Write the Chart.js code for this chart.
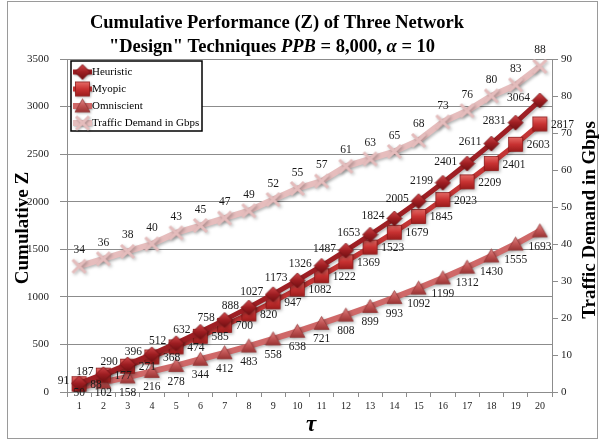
<!DOCTYPE html>
<html>
<head>
<meta charset="utf-8">
<script src="https://cdn.jsdelivr.net/npm/chart.js@4.4.1/dist/chart.umd.min.js"></script>
<style>
  html, body { margin: 0; padding: 0; background: #fff; }
  #wrap { width: 603px; height: 441px; position: relative; }
</style>
</head>
<body>
<div id="wrap"><canvas id="c" width="603" height="441"></canvas></div>
<script>
// Time periods (tau) on the x axis
const periods = ['1','2','3','4','5','6','7','8','9','10','11','12','13','14','15','16','17','18','19','20'];

// Cumulative performance Z per technique
const heuristic  = [91,187,290,396,512,632,758,888,1027,1173,1326,1487,1653,1824,2005,2199,2401,2611,2831,3064];
const myopic     = [88,177,271,368,474,585,700,820,947,1082,1222,1369,1523,1679,1845,2023,2209,2401,2603,2817];
const omniscient = [50,102,158,216,278,344,412,483,558,638,721,808,899,993,1092,1199,1312,1430,1555,1693];

// Traffic demand (Gbps), right axis
const traffic = [34,36,38,40,43,45,47,49,52,55,57,61,63,65,68,73,76,80,83,88];

const seriesNames = ['Heuristic','Myopic','Omniscient','Traffic Demand in Gbps'];

// Axis ranges
const zAxis = { min: 0, max: 3500, step: 500 };
const gbpsAxis = { min: 0, max: 90, step: 10 };

const SERIF = '"Liberation Serif", "Times New Roman", serif';
const GRID = '#8c8c8c';

// ---- shaded marker images ----
function markerCanvas(w, h, draw) {
  const c = document.createElement('canvas');
  c.width = w; c.height = h;
  const g = c.getContext('2d');
  g.translate(w / 2, h / 2);
  draw(g);
  return c;
}
function vGrad(g, top, bottom, stops) {
  const gr = g.createLinearGradient(0, top, 0, bottom);
  stops.forEach((s, i) => gr.addColorStop(i / (stops.length - 1), s));
  return gr;
}
const diamondImg = markerCanvas(17, 17, g => {
  const r = 7.5;
  g.beginPath(); g.moveTo(0, -r); g.lineTo(r, 0); g.lineTo(0, r); g.lineTo(-r, 0); g.closePath();
  g.fillStyle = vGrad(g, -r, r, ['#d0474a', '#9e1e22', '#6e0f12']);
  g.fill();
  g.strokeStyle = '#7a1518'; g.lineWidth = 0.8; g.stroke();
});
const squareImg = markerCanvas(17, 17, g => {
  const s = 7;
  g.fillStyle = vGrad(g, -s, s, ['#e66a66', '#c83232', '#9c1c1c']);
  g.fillRect(-s, -s, 2 * s, 2 * s);
  g.strokeStyle = '#8e1a1a'; g.lineWidth = 0.8; g.strokeRect(-s, -s, 2 * s, 2 * s);
});
const triangleImg = markerCanvas(17, 17, g => {
  g.beginPath(); g.moveTo(0, -7); g.lineTo(7.5, 6); g.lineTo(-7.5, 6); g.closePath();
  g.fillStyle = vGrad(g, -7, 6, ['#e08a8a', '#c25656', '#9a3434']);
  g.fill();
  g.strokeStyle = '#963838'; g.lineWidth = 0.8; g.stroke();
});
const crossImg = markerCanvas(17, 17, g => {
  g.strokeStyle = '#e4bcbc'; g.lineWidth = 3; g.lineCap = 'butt';
  g.beginPath(); g.moveTo(-6.5, -6.5); g.lineTo(6.5, 6.5); g.moveTo(6.5, -6.5); g.lineTo(-6.5, 6.5); g.stroke();
});

// ---- per-series value label placement ----
const labelPlacement = [
  { align: 'right',  dx: -10, dy: -2 },   // Heuristic: left of point
  { align: 'left',   dx: 11,  dy: 1 },    // Myopic: right of point
  { align: 'center', dx: 0,   dy: 16, clampBottom: true }, // Omniscient: below
  { align: 'center', dx: 0,   dy: -16 }   // Traffic: above
];

const valueLabels = {
  id: 'valueLabels',
  afterDatasetsDraw(chart) {
    const ctx = chart.ctx;
    ctx.save();
    ctx.font = '11.5px ' + SERIF;
    ctx.fillStyle = '#1a1a1a';
    ctx.textBaseline = 'middle';
    chart.data.datasets.forEach((ds, i) => {
      const meta = chart.getDatasetMeta(i);
      const p = labelPlacement[i];
      ctx.textAlign = p.align;
      meta.data.forEach((pt, j) => {
        let y = pt.y + p.dy;
        if (p.clampBottom) y = Math.min(y, chart.chartArea.bottom + 1);
        ctx.fillText(String(ds.data[j]), pt.x + p.dx, y);
      });
    });
    ctx.restore();
  }
};

// soft drop shadow under each series
const seriesShadow = {
  id: 'seriesShadow',
  beforeDatasetDraw(chart) {
    const ctx = chart.ctx;
    ctx.save();
    ctx.shadowColor = 'rgba(0,0,0,0.28)';
    ctx.shadowBlur = 3;
    ctx.shadowOffsetX = 1.5;
    ctx.shadowOffsetY = 1.5;
  },
  afterDatasetDraw(chart) { chart.ctx.restore(); }
};

// frame, titles and the boxed legend
const decorations = {
  id: 'decorations',
  beforeDraw(chart) {
    const ctx = chart.ctx;
    ctx.save();
    ctx.fillStyle = '#fff';
    ctx.fillRect(0, 0, chart.width, chart.height);
    ctx.strokeStyle = '#9a9a9a';
    ctx.lineWidth = 1;
    ctx.strokeRect(7.5, 1.5, 590, 437);
    ctx.restore();
  },
  afterDraw(chart) {
    const ctx = chart.ctx;
    ctx.save();
    ctx.fillStyle = '#000';
    ctx.textBaseline = 'middle';

    // chart title, line 1
    const bold = 'bold 18.5px ' + SERIF;
    const boldIt = 'italic bold 18.5px ' + SERIF;
    ctx.font = bold;
    ctx.textAlign = 'center';
    ctx.fillText('Cumulative Performance (Z) of Three Network', 277, 23);

    // line 2 with italic symbols
    const parts = [
      ['"Design" Techniques ', bold], ['PPB', boldIt], [' = 8,000, ', bold], ['α', boldIt], [' = 10', bold]
    ];
    let total = 0;
    parts.forEach(([t, f]) => { ctx.font = f; total += ctx.measureText(t).width; });
    let x = 272 - total / 2;
    ctx.textAlign = 'left';
    parts.forEach(([t, f]) => { ctx.font = f; ctx.fillText(t, x, 47); x += ctx.measureText(t).width; });

    // axis titles
    ctx.textAlign = 'center';
    ctx.font = 'bold 19px ' + SERIF;
    ctx.save(); ctx.translate(23, 228); ctx.rotate(-Math.PI / 2); ctx.fillText('Cumulative Z', 0, 0); ctx.restore();
    ctx.save(); ctx.translate(590, 220); ctx.rotate(-Math.PI / 2); ctx.fillText('Traffic Demand in Gbps', 0, 0); ctx.restore();
    ctx.font = 'italic bold 23px ' + SERIF;
    ctx.fillText('τ', 311, 425);

    // legend box
    const lx = 71, ly = 61, lw = 131, lh = 70;
    ctx.fillStyle = '#fff';
    ctx.fillRect(lx, ly, lw, lh);
    ctx.strokeStyle = '#000';
    ctx.lineWidth = 1.5;
    ctx.strokeRect(lx, ly, lw, lh);
    ctx.font = '11px ' + SERIF;
    ctx.textAlign = 'left';
    chart.data.datasets.forEach((ds, i) => {
      const y = ly + 11 + i * 17;
      ctx.save();
      ctx.shadowColor = 'rgba(0,0,0,0.28)'; ctx.shadowBlur = 2; ctx.shadowOffsetX = 1; ctx.shadowOffsetY = 1;
      ctx.strokeStyle = ds.borderColor;
      ctx.lineWidth = ds.borderWidth;
      ctx.beginPath(); ctx.moveTo(lx + 2, y); ctx.lineTo(lx + 21, y); ctx.stroke();
      const img = ds.pointStyle;
      ctx.drawImage(img, lx + 11.5 - img.width / 2, y - img.height / 2);
      ctx.restore();
      ctx.fillStyle = '#000';
      ctx.fillText(ds.label, lx + 21, y + 0.5);
    });
    ctx.restore();
  }
};

function series(label, data, color, width, img, axis) {
  return {
    label, data, yAxisID: axis,
    borderColor: color, borderWidth: width,
    pointStyle: img, pointRadius: 7, pointHoverRadius: 7,
    tension: 0, fill: false
  };
}

const plainTick = v => String(v);

new Chart(document.getElementById('c'), {
  type: 'line',
  data: {
    labels: periods,
    datasets: [
      series(seriesNames[0], heuristic,  '#9e1f24', 5, diamondImg, 'y'),
      series(seriesNames[1], myopic,     '#c33535', 5, squareImg, 'y'),
      series(seriesNames[2], omniscient, '#cf6868', 6, triangleImg, 'y'),
      series(seriesNames[3], traffic,    '#e6bdbd', 6, crossImg, 'y1')
    ]
  },
  options: {
    responsive: false,
    animation: false,
    devicePixelRatio: 1,
    layout: { padding: { top: 59, left: 7, right: 0, bottom: 0 } },
    plugins: {
      legend: { display: false },
      title: { display: false },
      tooltip: { enabled: false }
    },
    scales: {
      x: {
        type: 'category',
        offset: true,
        grid: { offset: true, drawOnChartArea: false, tickLength: 5, color: GRID },
        border: { display: true, color: GRID, width: 1 },
        ticks: { font: { family: SERIF, size: 10 }, color: '#222', padding: 3, maxRotation: 0, autoSkip: false },
        afterFit(s) { s.height = 49; }
      },
      y: {
        position: 'left',
        min: zAxis.min, max: zAxis.max,
        grid: { color: GRID, tickLength: 7 },
        border: { display: true, color: GRID, width: 1 },
        ticks: { stepSize: zAxis.step, font: { family: SERIF, size: 11 }, color: '#222', padding: 11, callback: plainTick },
        afterFit(s) { s.width = 60; }
      },
      y1: {
        position: 'right',
        min: gbpsAxis.min, max: gbpsAxis.max,
        grid: { drawOnChartArea: false, color: GRID, tickLength: 6 },
        border: { display: true, color: GRID, width: 1 },
        ticks: { stepSize: gbpsAxis.step, font: { family: SERIF, size: 11 }, color: '#222', padding: 3, callback: plainTick },
        afterFit(s) { s.width = 51; }
      }
    }
  },
  plugins: [decorations, seriesShadow, valueLabels]
});
</script>
</body>
</html>
